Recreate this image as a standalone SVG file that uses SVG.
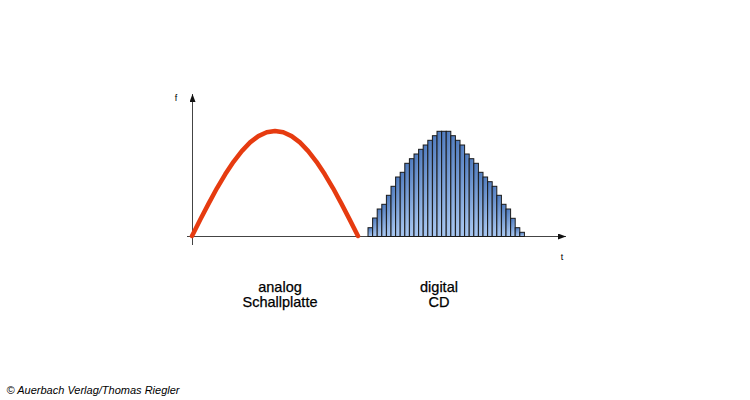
<svg xmlns="http://www.w3.org/2000/svg" width="750" height="400" viewBox="0 0 750 400">
<defs>
<linearGradient id="barGrad" x1="0" y1="0" x2="0.3" y2="1">
<stop offset="0" stop-color="#4572b8"/>
<stop offset="1" stop-color="#a5c4ee"/>
</linearGradient>
<marker id="arr" viewBox="0 0 8 6" refX="8" refY="3" markerWidth="8" markerHeight="6" markerUnits="userSpaceOnUse" orient="auto">
<path d="M0,0 L8,3 L0,6 Z" fill="#111"/>
</marker>
<style>
.axis{stroke:#444;stroke-width:1;fill:none}
.lbl{font-family:"Liberation Sans",Arial,sans-serif;fill:#000}
.big{stroke:#000;stroke-width:0.25}
.bar{fill:url(#barGrad);stroke:#1a1a1a;stroke-width:1}
.wave{fill:none;stroke:#e63b10;stroke-width:4.5;stroke-linecap:round;stroke-linejoin:round}
</style>
</defs>
<rect width="750" height="400" fill="#fff"/>
<g id="connectors">
<line class="axis" x1="192.5" y1="245" x2="192.5" y2="94" marker-end="url(#arr)"/>
<line class="axis" x1="187" y1="236.5" x2="566" y2="236.5" marker-end="url(#arr)"/>
</g>
<g id="analog-wave">
<polyline class="wave" points="192,236 200.3,219.6 208.6,203.6 216.9,188.3 225.2,174.3 233.5,161.8 241.8,151.1 250.1,142.4 258.4,136.1 266.7,132.3 275,131 283.3,132.3 291.6,136.1 299.9,142.4 308.2,151.1 316.5,161.8 324.8,174.3 333.1,188.3 341.4,203.6 349.7,219.6 358,236"/>
</g>
<g id="digital-bars">
<rect class="bar" x="368" y="227.7" width="4.6" height="8.8"/>
<rect class="bar" x="372.6" y="218" width="4.6" height="18.5"/>
<rect class="bar" x="377.2" y="209" width="4.6" height="27.5"/>
<rect class="bar" x="381.8" y="204.3" width="4.6" height="32.2"/>
<rect class="bar" x="386.4" y="195.3" width="4.6" height="41.2"/>
<rect class="bar" x="391" y="186.3" width="4.6" height="50.2"/>
<rect class="bar" x="395.6" y="177" width="4.6" height="59.5"/>
<rect class="bar" x="400.2" y="172.3" width="4.6" height="64.2"/>
<rect class="bar" x="404.8" y="163.3" width="4.6" height="73.2"/>
<rect class="bar" x="409.4" y="158.7" width="4.6" height="77.8"/>
<rect class="bar" x="414" y="154" width="4.6" height="82.5"/>
<rect class="bar" x="418.6" y="149.3" width="4.6" height="87.2"/>
<rect class="bar" x="423.2" y="145" width="4.6" height="91.5"/>
<rect class="bar" x="427.8" y="140.3" width="4.6" height="96.2"/>
<rect class="bar" x="432.4" y="135.7" width="4.6" height="100.8"/>
<rect class="bar" x="437" y="131.3" width="4.6" height="105.2"/>
<rect class="bar" x="441.6" y="131.3" width="4.6" height="105.2"/>
<rect class="bar" x="446.2" y="131.3" width="4.6" height="105.2"/>
<rect class="bar" x="450.8" y="135.7" width="4.6" height="100.8"/>
<rect class="bar" x="455.4" y="140.3" width="4.6" height="96.2"/>
<rect class="bar" x="460" y="145" width="4.6" height="91.5"/>
<rect class="bar" x="464.6" y="154" width="4.6" height="82.5"/>
<rect class="bar" x="469.2" y="158.7" width="4.6" height="77.8"/>
<rect class="bar" x="473.8" y="163.3" width="4.6" height="73.2"/>
<rect class="bar" x="478.4" y="172.3" width="4.6" height="64.2"/>
<rect class="bar" x="483" y="177" width="4.6" height="59.5"/>
<rect class="bar" x="487.6" y="181.7" width="4.6" height="54.8"/>
<rect class="bar" x="492.2" y="186.3" width="4.6" height="50.2"/>
<rect class="bar" x="496.8" y="195.3" width="4.6" height="41.2"/>
<rect class="bar" x="501.4" y="204.3" width="4.6" height="32.2"/>
<rect class="bar" x="506" y="209" width="4.6" height="27.5"/>
<rect class="bar" x="510.6" y="218.3" width="4.6" height="18.2"/>
<rect class="bar" x="515.2" y="227.7" width="4.6" height="8.8"/>
<rect class="bar" x="519.8" y="232.3" width="4.6" height="4.2"/>
</g>
<g id="axis-labels">
<text class="lbl" x="176" y="101" font-size="9" text-anchor="middle">f</text>
<text class="lbl" x="562" y="260" font-size="9" text-anchor="middle">t</text>
</g>
<g id="label-analog">
<text class="lbl big" x="280" y="291.5" font-size="14.5" text-anchor="middle">analog</text>
<text class="lbl big" x="280" y="307" font-size="14.5" text-anchor="middle">Schallplatte</text>
</g>
<g id="label-digital">
<text class="lbl big" x="439" y="291.5" font-size="14.5" text-anchor="middle">digital</text>
<text class="lbl big" x="439" y="307" font-size="14.5" text-anchor="middle">CD</text>
</g>
<g id="copyright">
<text class="lbl" x="6.5" y="394" font-size="11" font-style="italic">© Auerbach Verlag/Thomas Riegler</text>
</g>
</svg>
